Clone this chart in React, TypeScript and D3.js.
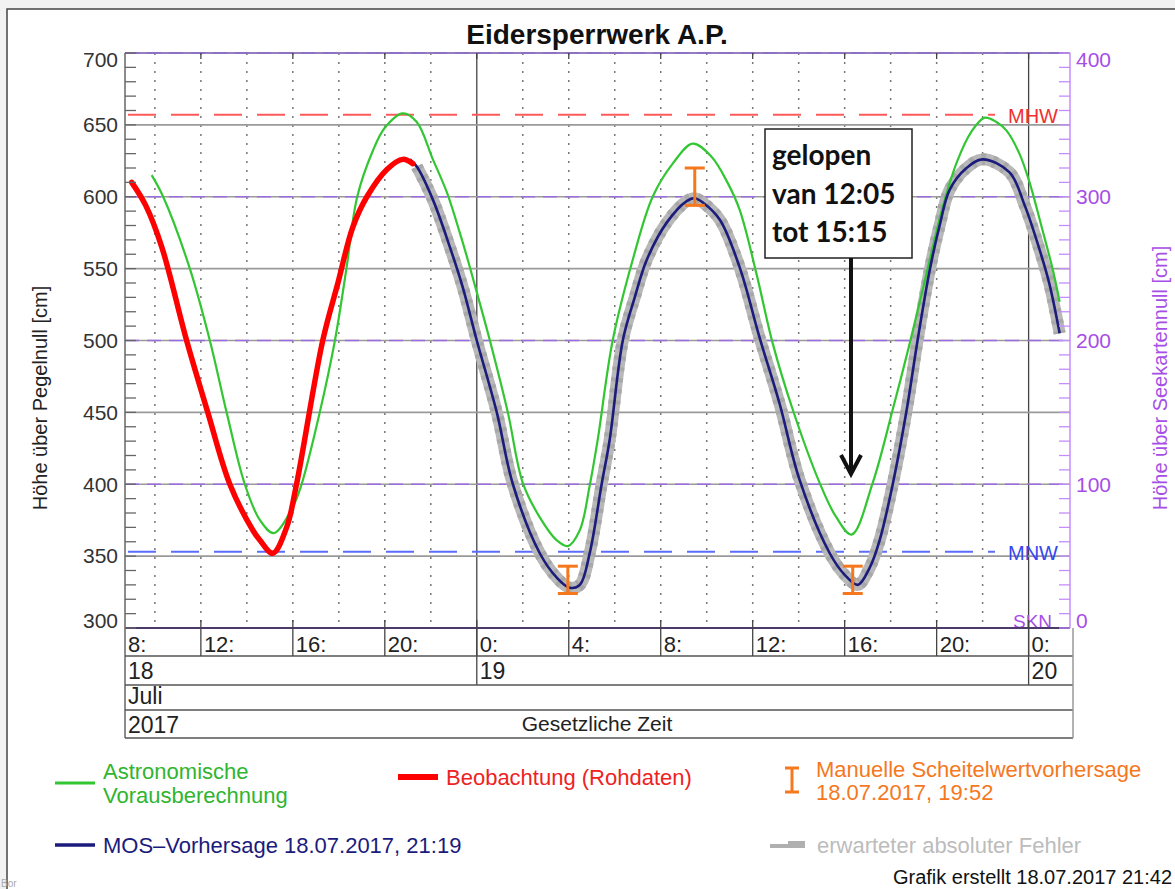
import React from 'react';
import * as d3 from 'd3';

// time = hours since 18.07.2017 00:00, level = cm above Pegelnull
const astroTime = [9.86, 10.36, 11.52, 12.39, 13.12, 13.91, 14.57, 15.17, 15.99, 16.38, 17.17, 17.83, 18.33, 18.8, 19.48, 20.0, 20.78, 21.39, 22.09, 22.7, 23.26, 23.7, 24.13, 24.57, 25.35, 26.0, 26.74, 27.48, 27.96, 28.48, 28.91, 29.26, 29.91, 30.78, 31.65, 32.52, 33.39, 34.2, 34.9, 35.43, 36.17, 36.87, 37.74, 38.91, 39.6, 40.3, 41.22, 42.09, 42.83, 43.7, 44.3, 44.9, 45.5, 46.09, 46.6, 47.04, 47.6, 48.04, 48.6, 49.04, 49.35];
const astroLevel = [615, 600, 550, 500, 450, 400, 375, 366, 384, 400, 450, 500, 550, 600, 632, 648, 658, 652, 626, 603, 575, 551, 526, 500, 450, 401, 377, 361, 357, 368, 399, 431, 500, 556, 600, 623, 637, 628, 610, 591, 546, 498, 452, 401, 378, 365, 401, 452, 498, 556, 595, 625, 645, 655, 652, 646, 630, 610, 577, 550, 527];

const obsTime = [8.99, 9.6, 10.3, 11.38, 12.3, 13.26, 14.26, 14.57, 15.13, 15.73, 16.16, 17.3, 17.96, 18.61, 19.22, 20.09, 20.78, 21.22];
const obsLevel = [610, 594, 565, 500, 450, 400, 368, 361, 352, 370, 400, 500, 540, 579, 600, 619, 626, 623];

const mosTime = [21.09, 21.39, 22.09, 22.83, 23.39, 24.0, 24.87, 25.57, 26.74, 27.48, 28.04, 28.48, 28.91, 29.43, 29.78, 30.35, 30.87, 31.39, 32.26, 33.13, 33.48, 33.83, 34.57, 35.43, 36.3, 37.17, 38.04, 39.35, 40.0, 40.57, 41.09, 41.52, 42.09, 42.7, 43.17, 43.7, 44.13, 44.57, 45.3, 46.0, 47.17, 47.83, 48.48, 48.91, 49.35];
const mosLevel = [626, 621, 598, 565, 537, 500, 450, 400, 352, 335, 328, 330, 352, 400, 431, 500, 530, 556, 582, 597, 599, 596, 584, 551, 502, 456, 403, 352, 337, 330, 342, 361, 400, 452, 500, 549, 580, 605, 620, 626, 617, 594, 563, 539, 505];

const peakTime = [27.96, 33.48, 40.35];
const peakLow = [324, 594, 324];
const peakHigh = [343, 620, 343];

const hourTicks = [8, 12, 16, 20, 24, 28, 32, 36, 40, 44, 48];
const hourLabels = ['8:', '12:', '16:', '20:', '0:', '4:', '8:', '12:', '16:', '20:', '0:'];
const dayTicks = [8, 24, 48];
const dayLabels = ['18', '19', '20'];
const levelTicks = [300, 350, 400, 450, 500, 550, 600, 650, 700];
const chartTicks = [0, 100, 200, 300, 400];

const MHW = 657;
const MNW = 353;
const SKN = 300;

const W = 1175, H = 889;
const left = 125, right = 1070, top = 53, bottom = 628;

const x = d3.scaleLinear().domain([8.7, 49.8]).range([left, right]);
const y = d3.scaleLinear().domain([300, 700]).range([bottom, top]);
const yChart = d3.scaleLinear().domain([0, 400]).range([bottom, top]);

const FONT = '"Liberation Sans", Arial, sans-serif';
const PURPLE = '#a64ee6';
const GREEN = '#33c633';
const NAVY = '#1b1b7c';
const ORANGE = '#f5781e';

function series(t: number[], v: number[]) {
  return t.map((d, i) => [d, v[i]] as [number, number]);
}

const line = d3.line<[number, number]>()
  .x(d => x(d[0]))
  .y(d => y(d[1]))
  .curve(d3.curveCatmullRom.alpha(0.5));

export default function App() {
  const astro = series(astroTime, astroLevel);
  const obs = series(obsTime, obsLevel);
  const mos = series(mosTime, mosLevel);

  const minor = d3.range(300, 701, 10);
  const minorChart = d3.range(0, 401, 10);
  const twoHours = d3.range(10, 49, 2).filter(h => h % 24 !== 0);

  const rows = [656, 685, 710, 738];

  return (
    <div style={{ position: 'absolute', left: 0, top: 0 }}>
      <svg width={W} height={H} style={{ display: 'block', fontFamily: FONT }}>
        <rect width={W} height={H} fill="#f2f2f2" />
        <rect x={7} y={9} width={W + 10} height={H + 10} fill="#fff" stroke="#444" strokeWidth={1.5} />

        <text x={597} y={44} textAnchor="middle" fontSize={28} fontWeight="bold" fill="#111">Eidersperrwerk A.P.</text>

        {/* vertical grid */}
        {twoHours.map(h => (
          <line key={'v' + h} x1={x(h)} x2={x(h)} y1={top} y2={bottom} stroke="#777" strokeWidth={1.5} strokeDasharray="2 7" />
        ))}
        {[24, 48].map(h => (
          <line key={'m' + h} x1={x(h)} x2={x(h)} y1={top} y2={685} stroke="#444" strokeWidth={1.3} />
        ))}

        {/* horizontal grid */}
        {levelTicks.map(v => (
          <g key={'h' + v}>
            <line x1={left} x2={right} y1={y(v)} y2={y(v)} stroke="#9a9a9a" strokeWidth={1.6} />
            {v % 100 === 0 && (
              <line x1={left} x2={right} y1={y(v)} y2={y(v)} stroke="#9b6be0" strokeWidth={1.6} strokeDasharray="14 8" />
            )}
          </g>
        ))}

        {/* reference levels */}
        <line x1={left + 3} x2={995} y1={y(MHW)} y2={y(MHW)} stroke="#ff5a5a" strokeWidth={2} strokeDasharray="28 15" />
        <text x={1008} y={y(MHW) + 8} fontSize={20} fill="#f03030">MHW</text>
        <line x1={left + 3} x2={995} y1={y(MNW)} y2={y(MNW)} stroke="#5b6dff" strokeWidth={2} strokeDasharray="28 15" />
        <text x={1008} y={y(MNW) + 8} fontSize={20} fill="#3447f0">MNW</text>
        <text x={1013} y={y(SKN)} fontSize={19} fill={PURPLE}>SKN</text>

        {/* expected error band */}
        <path d={line(mos.slice(1)) || ''} fill="none" stroke="#b8b8b8" strokeWidth={12} />
        <path d={line(mos.slice(1)) || ''} fill="none" stroke="#a8a8a8" strokeWidth={12} strokeDasharray="4 7" />

        <path d={line(astro) || ''} fill="none" stroke={GREEN} strokeWidth={2.2} />
        <path d={line(mos) || ''} fill="none" stroke={NAVY} strokeWidth={2.6} />
        <path d={line(obs) || ''} fill="none" stroke="#ff0000" strokeWidth={5.5} strokeLinecap="round" />

        {peakTime.map((t, i) => (
          <g key={'p' + i} stroke={ORANGE} strokeWidth={3}>
            <line x1={x(t)} x2={x(t)} y1={y(peakLow[i])} y2={y(peakHigh[i])} />
            <line x1={x(t) - 10} x2={x(t) + 10} y1={y(peakLow[i])} y2={y(peakLow[i])} />
            <line x1={x(t) - 10} x2={x(t) + 10} y1={y(peakHigh[i])} y2={y(peakHigh[i])} />
          </g>
        ))}

        {/* frame and axes */}
        <line x1={left} x2={right} y1={top} y2={top} stroke="#8a6cc0" strokeWidth={1.6} />
        <line x1={left} x2={right} y1={bottom} y2={bottom} stroke="#4b3a6a" strokeWidth={2} />
        <line x1={left} x2={left} y1={top} y2={738} stroke="#666" strokeWidth={1.5} />
        <line x1={right} x2={right} y1={top} y2={bottom} stroke="#c58cff" strokeWidth={1.5} />
        {minor.map(v => (
          <line key={'lt' + v} x1={left} x2={left + 11} y1={y(v)} y2={y(v)} stroke="#666" strokeWidth={1.3} />
        ))}
        {minorChart.map(v => (
          <line key={'rt' + v} x1={right - 11} x2={right} y1={yChart(v)} y2={yChart(v)} stroke="#c58cff" strokeWidth={1.3} />
        ))}
        {levelTicks.map(v => (
          <text key={'ll' + v} x={118} y={y(v) + (v === 700 ? 7 : v === 300 ? -7 : 0)} dy="0.35em" textAnchor="end" fontSize={21} fill="#333">{v}</text>
        ))}
        {chartTicks.map(v => (
          <text key={'rl' + v} x={1076} y={yChart(v) + (v === 400 ? 7 : v === 0 ? -7 : 0)} dy="0.35em" fontSize={21} fill={PURPLE}>{v}</text>
        ))}
        <text transform={`translate(47,398) rotate(-90)`} textAnchor="middle" fontSize={20} fill="#222">Höhe über Pegelnull [cm]</text>
        <text transform={`translate(1167,378) rotate(-90)`} textAnchor="middle" fontSize={20} fill={PURPLE}>Höhe über Seekartennull [cm]</text>

        {/* time table */}
        {rows.map(r => (
          <line key={'r' + r} x1={left} x2={1073} y1={r} y2={r} stroke="#555" strokeWidth={1.5} />
        ))}
        <line x1={1073} x2={1073} y1={bottom} y2={738} stroke="#999" strokeWidth={1.5} />
        {hourTicks.map((h, i) => {
          const hx = Math.max(x(h), left);
          return (
            <g key={'ht' + i}>
              {h > 8.7 && <line x1={hx} x2={hx} y1={bottom - 8} y2={656} stroke="#444" strokeWidth={1.3} />}
              {h > 8.7 && <line x1={hx} x2={hx} y1={top} y2={top + 6} stroke="#444" strokeWidth={1.3} />}
              <text x={hx + 3} y={652} fontSize={22} fill="#222">{hourLabels[i]}</text>
            </g>
          );
        })}
        {dayTicks.map((d, i) => (
          <text key={'d' + i} x={Math.max(x(d), left) + 3} y={679} fontSize={23} fill="#222">{dayLabels[i]}</text>
        ))}
        <text x={left + 3} y={704} fontSize={23} fill="#222">Juli</text>
        <text x={left + 3} y={733} fontSize={23} fill="#222">2017</text>
        <text x={597} y={731} textAnchor="middle" fontSize={21} fill="#222">Gesetzliche Zeit</text>

        {/* legend */}
        <line x1={55} x2={95} y1={783} y2={783} stroke={GREEN} strokeWidth={3} />
        <text x={103} y={779} fontSize={22} fill="#2fb52f">Astronomische</text>
        <text x={103} y={803} fontSize={22} fill="#2fb52f">Vorausberechnung</text>
        <line x1={398} x2={438} y1={777} y2={777} stroke="#ff0000" strokeWidth={6} />
        <text x={446} y={785} fontSize={22} fill="#ee2222">Beobachtung (Rohdaten)</text>
        <g stroke={ORANGE} strokeWidth={3}>
          <line x1={792} x2={792} y1={768} y2={792} />
          <line x1={785} x2={799} y1={768} y2={768} />
          <line x1={785} x2={799} y1={792} y2={792} />
        </g>
        <text x={816} y={777} fontSize={22} fill={ORANGE}>Manuelle Scheitelwertvorhersage</text>
        <text x={816} y={800} fontSize={22} fill={ORANGE}>18.07.2017, 19:52</text>
        <line x1={55} x2={95} y1={845} y2={845} stroke={NAVY} strokeWidth={3.5} />
        <text x={103} y={853} fontSize={22} fill={NAVY}>MOS–Vorhersage  18.07.2017, 21:19</text>
        <rect x={770} y={844} width={18} height={4} fill="#b0b0b0" />
        <rect x={788} y={841} width={17} height={7} fill="#b0b0b0" />
        <text x={817} y={853} fontSize={22} fill="#bcbcbc">erwarteter absoluter Fehler</text>
        <text x={1172} y={884} textAnchor="end" fontSize={20} fill="#111">Grafik erstellt 18.07.2017 21:42</text>
        <text x={1} y={887} fontSize={10} fill="#aaa">Bor</text>

        {/* annotation */}
        <rect x={765} y={129} width={147} height={129} fill="#fff" stroke="#222" strokeWidth={1.5} />
        <g fontFamily="Lato, 'Open Sans', sans-serif" fontWeight="bold" fontSize={28} fill="#111">
          <text x={772} y={165}>gelopen</text>
          <text x={772} y={204}>van 12:05</text>
          <text x={772} y={242}>tot 15:15</text>
        </g>
        <line x1={851} x2={851} y1={258} y2={474} stroke="#111" strokeWidth={4} />
        <polyline points="841,455 851,474 861,455" fill="none" stroke="#111" strokeWidth={4} />
      </svg>
    </div>
  );
}
